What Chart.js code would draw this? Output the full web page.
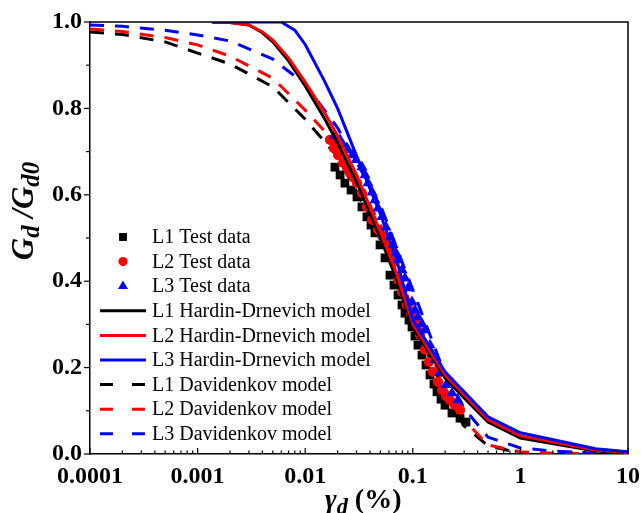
<!DOCTYPE html>
<html>
<head>
<meta charset="utf-8">
<script src="https://cdn.jsdelivr.net/npm/chart.js@4.4.0/dist/chart.umd.min.js"></script>
<style>
    html, body { margin: 0; padding: 0; background: #fff; }
    #wrap { width: 641px; height: 513px; }
</style>
</head>
<body>
<div id="wrap"><canvas id="chart" width="641" height="513"></canvas></div>
<script>
// 범례 이름과 색상
const seriesNames = ['L1 Test data', 'L2 Test data', 'L3 Test data',
    'L1 Hardin-Drnevich model', 'L2 Hardin-Drnevich model', 'L3 Hardin-Drnevich model',
    'L1 Davidenkov model', 'L2 Davidenkov model', 'L3 Davidenkov model'];
const seriesColors = ['#000000', '#ff0000', '#0000ff'];

// x축 눈금 (major)
const xTickValues = [0.0001, 0.001, 0.01, 0.1, 1, 10];

// 시험 데이터 (strain %, Gd/Gd0)
const l1TestX = [0.0189, 0.0211, 0.0234, 0.0267, 0.0303, 0.0337, 0.0375, 0.0409, 0.0445, 0.0496,
    0.0552, 0.0614, 0.0669, 0.0729, 0.0794, 0.0846, 0.0922, 0.0983, 0.1048, 0.1117,
    0.1218, 0.1327, 0.1445, 0.1574, 0.1679, 0.1829, 0.1992, 0.2313, 0.2747, 0.3122];
const l1TestY = [0.664, 0.646, 0.627, 0.611, 0.595, 0.572, 0.549, 0.530, 0.512, 0.484,
    0.454, 0.414, 0.391, 0.368, 0.345, 0.326, 0.310, 0.294, 0.273, 0.252,
    0.229, 0.206, 0.183, 0.162, 0.144, 0.127, 0.113, 0.095, 0.083, 0.074];

const l2TestX = [0.0170, 0.0185, 0.0202, 0.0225, 0.0245, 0.0261, 0.0284, 0.0303, 0.0337, 0.0375,
    0.0418, 0.0475, 0.0517, 0.0552, 0.0614, 0.0669, 0.0729, 0.0794, 0.0883, 0.0962,
    0.1048, 0.1167, 0.1299, 0.1414, 0.1541, 0.1715, 0.1868, 0.2035, 0.2217, 0.2467, 0.2747];
const l2TestY = [0.727, 0.708, 0.692, 0.674, 0.662, 0.650, 0.639, 0.627, 0.604, 0.572,
    0.542, 0.519, 0.505, 0.495, 0.477, 0.444, 0.403, 0.375, 0.345, 0.326,
    0.310, 0.275, 0.241, 0.213, 0.190, 0.167, 0.148, 0.134, 0.125, 0.113, 0.102];

const l3TestX = [0.0189, 0.0211, 0.0225, 0.0250, 0.0272, 0.0297, 0.0337, 0.0360, 0.0384, 0.0418,
    0.0445, 0.0475, 0.0517, 0.0564, 0.0614, 0.0655, 0.0698, 0.0729, 0.0794, 0.0846,
    0.0902, 0.0983, 0.1048, 0.1117, 0.1218, 0.1299, 0.1445, 0.1608, 0.1790, 0.2035, 0.2313, 0.2630];
const l3TestY = [0.738, 0.727, 0.715, 0.704, 0.692, 0.681, 0.664, 0.646, 0.627, 0.606,
    0.588, 0.569, 0.549, 0.525, 0.502, 0.484, 0.465, 0.449, 0.426, 0.407,
    0.384, 0.352, 0.333, 0.317, 0.301, 0.287, 0.252, 0.218, 0.188, 0.160, 0.141, 0.125];

// Hardin-Drnevich 모델
const hdStrain = [0.00136, 0.002, 0.003, 0.004, 0.005, 0.007, 0.01, 0.015, 0.02, 0.03,
    0.05, 0.07, 0.1, 0.15, 0.2, 0.3, 0.5, 1, 5, 10];
const l1HdY = [1.0, 0.999, 0.993, 0.975, 0.954, 0.910, 0.852, 0.778, 0.720, 0.630,
    0.500, 0.407, 0.294, 0.225, 0.176, 0.130, 0.074, 0.037, 0.007, 0.002];
const l2HdY = [1.0, 0.999, 0.993, 0.977, 0.958, 0.917, 0.861, 0.792, 0.736, 0.646,
    0.514, 0.421, 0.301, 0.231, 0.183, 0.137, 0.079, 0.042, 0.009, 0.003];
const l3HdStrain = [0.00136, 0.006, 0.008, 0.01, 0.015, 0.02, 0.03, 0.05, 0.07, 0.1,
    0.15, 0.2, 0.3, 0.5, 1, 5, 10];
const l3HdY = [1.0, 1.0, 0.981, 0.948, 0.865, 0.800, 0.690, 0.555, 0.454, 0.310,
    0.241, 0.190, 0.144, 0.086, 0.049, 0.012, 0.005];

// Davidenkov 모델
const l1DavStrain = [0.0001, 0.0002, 0.0005, 0.001, 0.002, 0.005, 0.01, 0.02, 0.05, 0.1,
    0.2, 0.3, 0.5, 1];
const l1DavY = [0.977, 0.971, 0.954, 0.928, 0.903, 0.850, 0.775, 0.688, 0.507, 0.315,
    0.137, 0.065, 0.019, 0.002];
const l2DavStrain = [0.0001, 0.0002, 0.0005, 0.001, 0.002, 0.005, 0.01, 0.02, 0.05, 0.1,
    0.2, 0.3, 0.5, 1, 2, 5];
const l2DavY = [0.984, 0.978, 0.964, 0.947, 0.921, 0.870, 0.796, 0.715, 0.530, 0.333,
    0.153, 0.079, 0.021, 0.005, 0.002, 0.001];
const l3DavStrain = [0.0001, 0.0002, 0.0005, 0.001, 0.002, 0.005, 0.01, 0.02, 0.05, 0.1,
    0.2, 0.3, 0.5, 1, 2, 5];
const l3DavY = [0.993, 0.990, 0.981, 0.970, 0.956, 0.914, 0.856, 0.755, 0.576, 0.380,
    0.183, 0.106, 0.039, 0.014, 0.007, 0.002];

const FONT = '"Liberation Serif", "Times New Roman", serif';

function toPoints(xs, ys) {
    return xs.map((x, i) => ({ x: x, y: ys[i] }));
}

function markerSet(i, xs, ys, style, radius) {
    return {
        label: seriesNames[i],
        data: toPoints(xs, ys),
        pointStyle: style,
        pointRadius: radius,
        pointBackgroundColor: seriesColors[i % 3],
        pointBorderWidth: 0,
        showLine: false,
        order: 5 - i
    };
}

function lineSet(i, xs, ys, dashed) {
    return {
        label: seriesNames[i],
        data: toPoints(xs, ys),
        borderColor: seriesColors[i % 3],
        borderWidth: 3,
        borderDash: dashed ? [14, 11] : [],
        pointRadius: 0,
        showLine: true,
        fill: false,
        order: dashed ? 14 - i : 5 - i
    };
}

const datasets = [
    markerSet(0, l1TestX, l1TestY, 'rect', 6.2),
    markerSet(1, l2TestX, l2TestY, 'circle', 5.1),
    markerSet(2, l3TestX, l3TestY, 'triangle', 6.4),
    lineSet(3, hdStrain, l1HdY, false),
    lineSet(4, hdStrain, l2HdY, false),
    lineSet(5, l3HdStrain, l3HdY, false),
    lineSet(6, l1DavStrain, l1DavY, true),
    lineSet(7, l2DavStrain, l2DavY, true),
    lineSet(8, l3DavStrain, l3DavY, true)
];
// 실선이 마커 위에 오도록
datasets[3].order = -3; datasets[4].order = -4; datasets[5].order = -5;

// 텍스트 (아래첨자 포함) 그리기
const SUB = 0.8;
function richWidth(ctx, parts, size) {
    let w = 0;
    parts.forEach(p => {
        ctx.font = (p[2] ? 'italic ' : '') + 'bold ' + (p[1] ? size * SUB : size) + 'px ' + FONT;
        w += ctx.measureText(p[0]).width;
    });
    return w;
}
function drawRich(ctx, parts, x, y, size) {
    parts.forEach(p => {
        ctx.font = (p[2] ? 'italic ' : '') + 'bold ' + (p[1] ? size * SUB : size) + 'px ' + FONT;
        ctx.fillText(p[0], x, p[1] ? y + size * 0.2 : y);
        x += ctx.measureText(p[0]).width;
    });
}

const decorPlugin = {
    id: 'decor',
    afterDraw(chart) {
        const ctx = chart.ctx;
        const area = chart.chartArea;
        const xs = chart.scales.x;
        const ys = chart.scales.y;
        ctx.save();
        ctx.strokeStyle = '#000';
        ctx.lineWidth = 1.5;
        // 위, 오른쪽 테두리
        ctx.beginPath();
        ctx.moveTo(area.left, area.top);
        ctx.lineTo(area.right, area.top);
        ctx.lineTo(area.right, area.bottom);
        ctx.stroke();

        // y축 눈금 (바깥쪽)
        ctx.lineWidth = 1.2;
        for (let k = 0; k <= 10; k++) {
            const py = ys.getPixelForValue(k / 10);
            const len = k % 2 === 0 ? 6 : 4;
            ctx.beginPath();
            ctx.moveTo(area.left - len, py);
            ctx.lineTo(area.left, py);
            ctx.stroke();
        }
        // x축 눈금 (안쪽)
        for (let e = -4; e <= 1; e++) {
            for (let m = 1; m <= 9; m++) {
                const v = m * Math.pow(10, e);
                if (v > 10.0001) break;
                const px = xs.getPixelForValue(v);
                const len = m === 1 ? 6 : 3.5;
                ctx.beginPath();
                ctx.moveTo(px, area.bottom);
                ctx.lineTo(px, area.bottom - len);
                ctx.stroke();
            }
        }

        // 범례
        const legX = 100, legTextX = 152, legTop = 237, legGap = 24.6;
        ctx.textBaseline = 'middle';
        chart.data.datasets.forEach((ds, i) => {
            const y = legTop + i * legGap;
            const color = seriesColors[i % 3];
            if (i < 3) {
                ctx.fillStyle = color;
                Chart.helpers.drawPoint(ctx, {
                    pointStyle: ds.pointStyle, radius: ds.pointRadius * 0.9, borderWidth: 0, rotation: 0
                }, 123, y);
            } else {
                ctx.strokeStyle = color;
                ctx.lineWidth = 3;
                ctx.setLineDash(i >= 6 ? [13, 19] : []);
                ctx.beginPath();
                ctx.moveTo(legX, y);
                ctx.lineTo(legX + 46, y);
                ctx.stroke();
                ctx.setLineDash([]);
            }
            ctx.fillStyle = '#000';
            ctx.font = '20px ' + FONT;
            ctx.fillText(ds.label, legTextX, y + 1);
        });

        // 축 제목
        ctx.fillStyle = '#000';
        ctx.textBaseline = 'alphabetic';
        const xTitle = [['γ', false, true], ['d', true, true], [' (%)', false, false]];
        drawRich(ctx, xTitle, 325, 508, 28);

        const yTitle = [['G', false, true], ['d', true, true], [' /', false, true], ['G', false, true], ['d0', true, true]];
        const w = richWidth(ctx, yTitle, 31);
        ctx.translate(33, 211);
        ctx.rotate(-Math.PI / 2);
        drawRich(ctx, yTitle, -w / 2, 0, 31);
        ctx.restore();
    }
};

new Chart(document.getElementById('chart').getContext('2d'), {
    type: 'scatter',
    data: { datasets: datasets },
    options: {
        responsive: false,
        animation: false,
        layout: { padding: { top: 22, right: 13, left: 0, bottom: 0 } },
        plugins: { legend: { display: false }, tooltip: { enabled: false } },
        scales: {
            x: {
                type: 'logarithmic',
                min: 0.0001,
                max: 10,
                grid: { display: false, drawTicks: false },
                border: { display: true, color: '#000', width: 1.5 },
                afterBuildTicks: scale => { scale.ticks = xTickValues.map(v => ({ value: v })); },
                afterFit: scale => {
                    scale.height = 59;
                    scale.paddingLeft = 0;
                    scale.paddingRight = 0;
                },
                ticks: {
                    callback: v => String(v),
                    autoSkip: false,
                    maxRotation: 0,
                    padding: 8,
                    color: '#000',
                    font: { family: FONT, size: 24, weight: 'bold' }
                }
            },
            y: {
                min: 0,
                max: 1,
                grid: { display: false, drawTicks: false },
                border: { display: true, color: '#000', width: 1.5 },
                afterFit: scale => {
                    scale.width = 90;
                    scale.paddingTop = 0;
                    scale.paddingBottom = 0;
                },
                ticks: {
                    stepSize: 0.2,
                    callback: v => v.toFixed(1),
                    padding: 8,
                    color: '#000',
                    font: { family: FONT, size: 24, weight: 'bold' }
                }
            }
        }
    },
    plugins: [decorPlugin]
});
</script>
</body>
</html>
